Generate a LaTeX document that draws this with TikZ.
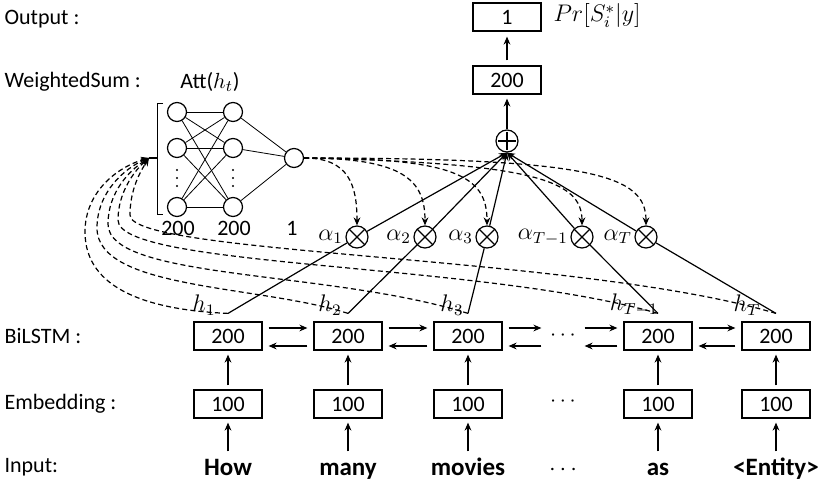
\documentclass[tikz,border=0pt]{standalone}
\usepackage{fontspec}
\setmainfont{Carlito}
\usetikzlibrary{arrows.meta,calc}
\begin{document}
\begin{tikzpicture}[x=0.5pt,y=-0.5pt,
  line width=0.6pt,
  >={Stealth[length=4pt,width=3.4pt]},
  box/.style={draw,minimum width=34pt,minimum height=14pt,inner sep=0pt,font=\fontsize{11}{12}\selectfont},
  lbl/.style={anchor=west,font=\fontsize{11}{12}\selectfont,inner sep=0pt},
  word/.style={font=\fontsize{12.5}{14}\selectfont\bfseries,inner sep=1pt,anchor=base,text height=9pt,text depth=2.5pt},
  num/.style={font=\fontsize{11}{12}\selectfont,inner sep=1pt},
  gap/.style={minimum width=15pt,minimum height=14pt,inner sep=0pt,font=\fontsize{11}{12}\selectfont},
  neuron/.style={circle,draw,minimum size=9.5pt,inner sep=0pt},
  mult/.style={circle,draw,minimum size=11pt,inner sep=0pt,fill=white,
    path picture={\draw (path picture bounding box.north west)--(path picture bounding box.south east)
      (path picture bounding box.north east)--(path picture bounding box.south west);}},
  plusnode/.style={circle,draw,minimum size=11pt,inner sep=0pt,fill=white,
    path picture={\draw[line width=1.3pt] ([yshift=-1pt]path picture bounding box.north)--([yshift=1pt]path picture bounding box.south)
      ([xshift=1pt]path picture bounding box.west)--([xshift=-1pt]path picture bounding box.east);}},
  mlab/.style={font=\fontsize{12}{14}\selectfont,inner sep=1pt},
  hlab/.style={font=\fontsize{11.5}{13}\selectfont,inner sep=0pt},
  dsh/.style={dash pattern=on 2.5pt off 1.6pt},
  harr/.style={->,shorten <=3pt,shorten >=3pt},
  varr/.style={->,shorten <=2pt,shorten >=2pt}
]
\useasboundingbox (0,0) rectangle (831,486);

% left labels
\node[lbl] (lout) at (4,19) {Output :};
\node[lbl] (lws) at (4,82) {WeightedSum :};
\node[lbl] (lbi) at (4,336) {BiLSTM :};
\node[lbl] (lem) at (4,404) {Embedding :};
\node[lbl] (lin) at (4,467) {Input:};

% output part
\node[box] (o1) at (507,17) {1};
\node[anchor=west,font=\fontsize{12}{14}\selectfont,inner sep=0pt] (pr) at (553,16) {$Pr[S_i^*|y]$};
\node[box] (o200) at (507,80) {200};
\node[plusnode] (plus) at (507,141) {};
\draw[->,shorten >=2.5pt,shorten <=2.5pt] (o200) -- (o1);
\draw[->,shorten >=2pt] (plus) -- (o200);

% BiLSTM boxes
\node[box] (b1) at (228,336) {200};
\node[box] (b2) at (348,336) {200};
\node[box] (b3) at (468,336) {200};
\node[gap] (bdots) at (563,336) {$\cdots$};
\node[box] (b4) at (658,336) {200};
\node[box] (b5) at (776,336) {200};

% Embedding boxes
\node[box] (e1) at (228,404) {100};
\node[box] (e2) at (348,404) {100};
\node[box] (e3) at (468,404) {100};
\node[gap] (edots) at (563,402) {$\cdots$};
\node[box] (e4) at (658,404) {100};
\node[box] (e5) at (776,404) {100};

% input words
\node[word] (w1) at (228,476) {How};
\node[word] (w2) at (348,476) {many};
\node[word] (w3) at (468,476) {movies};
\node[word] (wdots) at (563,476) {$\cdots$};
\node[word] (w4) at (658,476) {as};
\node[word] (w5) at (776,476) {<Entity>};

\foreach \i in {1,...,5}{
  \draw[varr] (w\i) -- (e\i);
  \draw[varr] (e\i) -- (b\i);
}

% horizontal BiLSTM arrows
\draw[harr] ([yshift=4pt]b1.east) -- ([yshift=4pt]b2.west);
\draw[harr] ([yshift=-5pt]b2.west) -- ([yshift=-5pt]b1.east);
\draw[harr] ([yshift=4pt]b2.east) -- ([yshift=4pt]b3.west);
\draw[harr] ([yshift=-5pt]b3.west) -- ([yshift=-5pt]b2.east);
\draw[harr] ([yshift=4pt]b3.east) -- ([yshift=4pt]bdots.west);
\draw[harr] ([yshift=-5pt]bdots.west) -- ([yshift=-5pt]b3.east);
\draw[harr] ([yshift=4pt]bdots.east) -- ([yshift=4pt]b4.west);
\draw[harr] ([yshift=-5pt]b4.west) -- ([yshift=-5pt]bdots.east);
\draw[harr] ([yshift=4pt]b4.east) -- ([yshift=4pt]b5.west);
\draw[harr] ([yshift=-5pt]b5.west) -- ([yshift=-5pt]b4.east);

% hidden-state start points and labels
\foreach \i in {1,...,5}{ \coordinate (hs\i) at ([yshift=4pt]b\i.north); }
\node[hlab] (hl1) at (204,305) {$h_1$};
\node[hlab] (hl2) at (330,305) {$h_2$};
\node[hlab] (hl3) at (452,305) {$h_3$};
\node[hlab] (hl4) at (634,305) {$h_{T-1}$};
\node[hlab] (hl5) at (747,305) {$h_T$};

% multipliers
\node[mult] (m1) at (357,237) {};
\node[mult] (m2) at (425,237) {};
\node[mult] (m3) at (487,237) {};
\node[mult] (m4) at (582,237) {};
\node[mult] (m5) at (646,237) {};
\node[mlab,anchor=east] (a1) at (m1.west) {$\alpha_1$};
\node[mlab,anchor=east] (a2) at (m2.west) {$\alpha_2$};
\node[mlab,anchor=east] (a3) at (m3.west) {$\alpha_3$};
\node[mlab,anchor=east] (a4) at (m4.west) {$\alpha_{T-1}$};
\node[mlab,anchor=east] (a5) at (m5.west) {$\alpha_T$};

\foreach \i in {1,...,5}{
  \draw (hs\i) -- (m\i);
  \draw[->] (m\i) -- (plus.south);
}

% attention network
\node[neuron] (n11) at (177,112) {};
\node[neuron] (n12) at (177,148) {};
\node[neuron] (n13) at (177,207) {};
\node[neuron] (n21) at (233,112) {};
\node[neuron] (n22) at (233,148) {};
\node[neuron] (n23) at (233,207) {};
\node[neuron] (nout) at (294,158) {};
\foreach \x in {177,233}{
  \foreach \y in {170,178,186}{ \fill (\x,\y) circle[radius=0.55pt]; }
}
\foreach \a in {1,2,3}{
  \foreach \b in {1,2,3}{ \draw[line width=0.4pt] (n1\a) -- (n2\b); }
  \draw[line width=0.4pt] (n2\a) -- (nout);
}
\node[num] (t1) at (178,228) {200};
\node[num] (t2) at (234,228) {200};
\node[num] (t3) at (292,228) {1};
\node[font=\fontsize{11}{12}\selectfont,inner sep=0pt] (att) at (210,82) {Att($h_t$)};

% bracket
\coordinate (brt) at (163,103);
\coordinate (brb) at (163,214);
\coordinate (brm) at (157,158);
\coordinate (ain) at (149,158);
\draw[line width=0.4pt] (brt) -- ++(-6,0) |- (brb);
\draw (ain) -- (brm);

% dashed attention weights to multipliers
\draw[dsh,->] (nout.east) .. controls +(45,0) and +(0,-40) .. (m1.north);
\draw[dsh,->] (nout.east) .. controls +(100,0) and +(0,-45) .. (m2.north);
\draw[dsh,->] (nout.east) .. controls +(150,0) and +(0,-50) .. (m3.north);
\draw[dsh,->] (nout.east) .. controls +(230,5) and +(0,-45) .. (m4.north);
\draw[dsh,->] (nout.east) .. controls +(290,0) and +(0,-50) .. (m5.north);

% dashed feedback from hidden states to attention input
\coordinate (p1) at (85,232);
\coordinate (p2) at (97,228);
\coordinate (p3) at (108,224);
\coordinate (p4) at (118,220);
\coordinate (p5) at (130,215);
\draw[dsh,->] (hs1) .. controls (150,310) and (85,290) .. (p1) .. controls (85,190) and (120,166) .. (ain);
\draw[dsh,->] (hs2) .. controls (260,285) and (97,290) .. (p2) .. controls (97,192) and (125,168) .. (ain);
\draw[dsh,->] (hs3) .. controls (330,270) and (108,280) .. (p3) .. controls (108,192) and (130,170) .. (ain);
\draw[dsh,->] (hs4) .. controls (480,262) and (118,268) .. (p4) .. controls (118,192) and (135,170) .. (ain);
\draw[dsh,->] (hs5) .. controls (580,255) and (130,255) .. (p5) .. controls (130,190) and (140,172) .. (ain);
\end{tikzpicture}
\end{document}
